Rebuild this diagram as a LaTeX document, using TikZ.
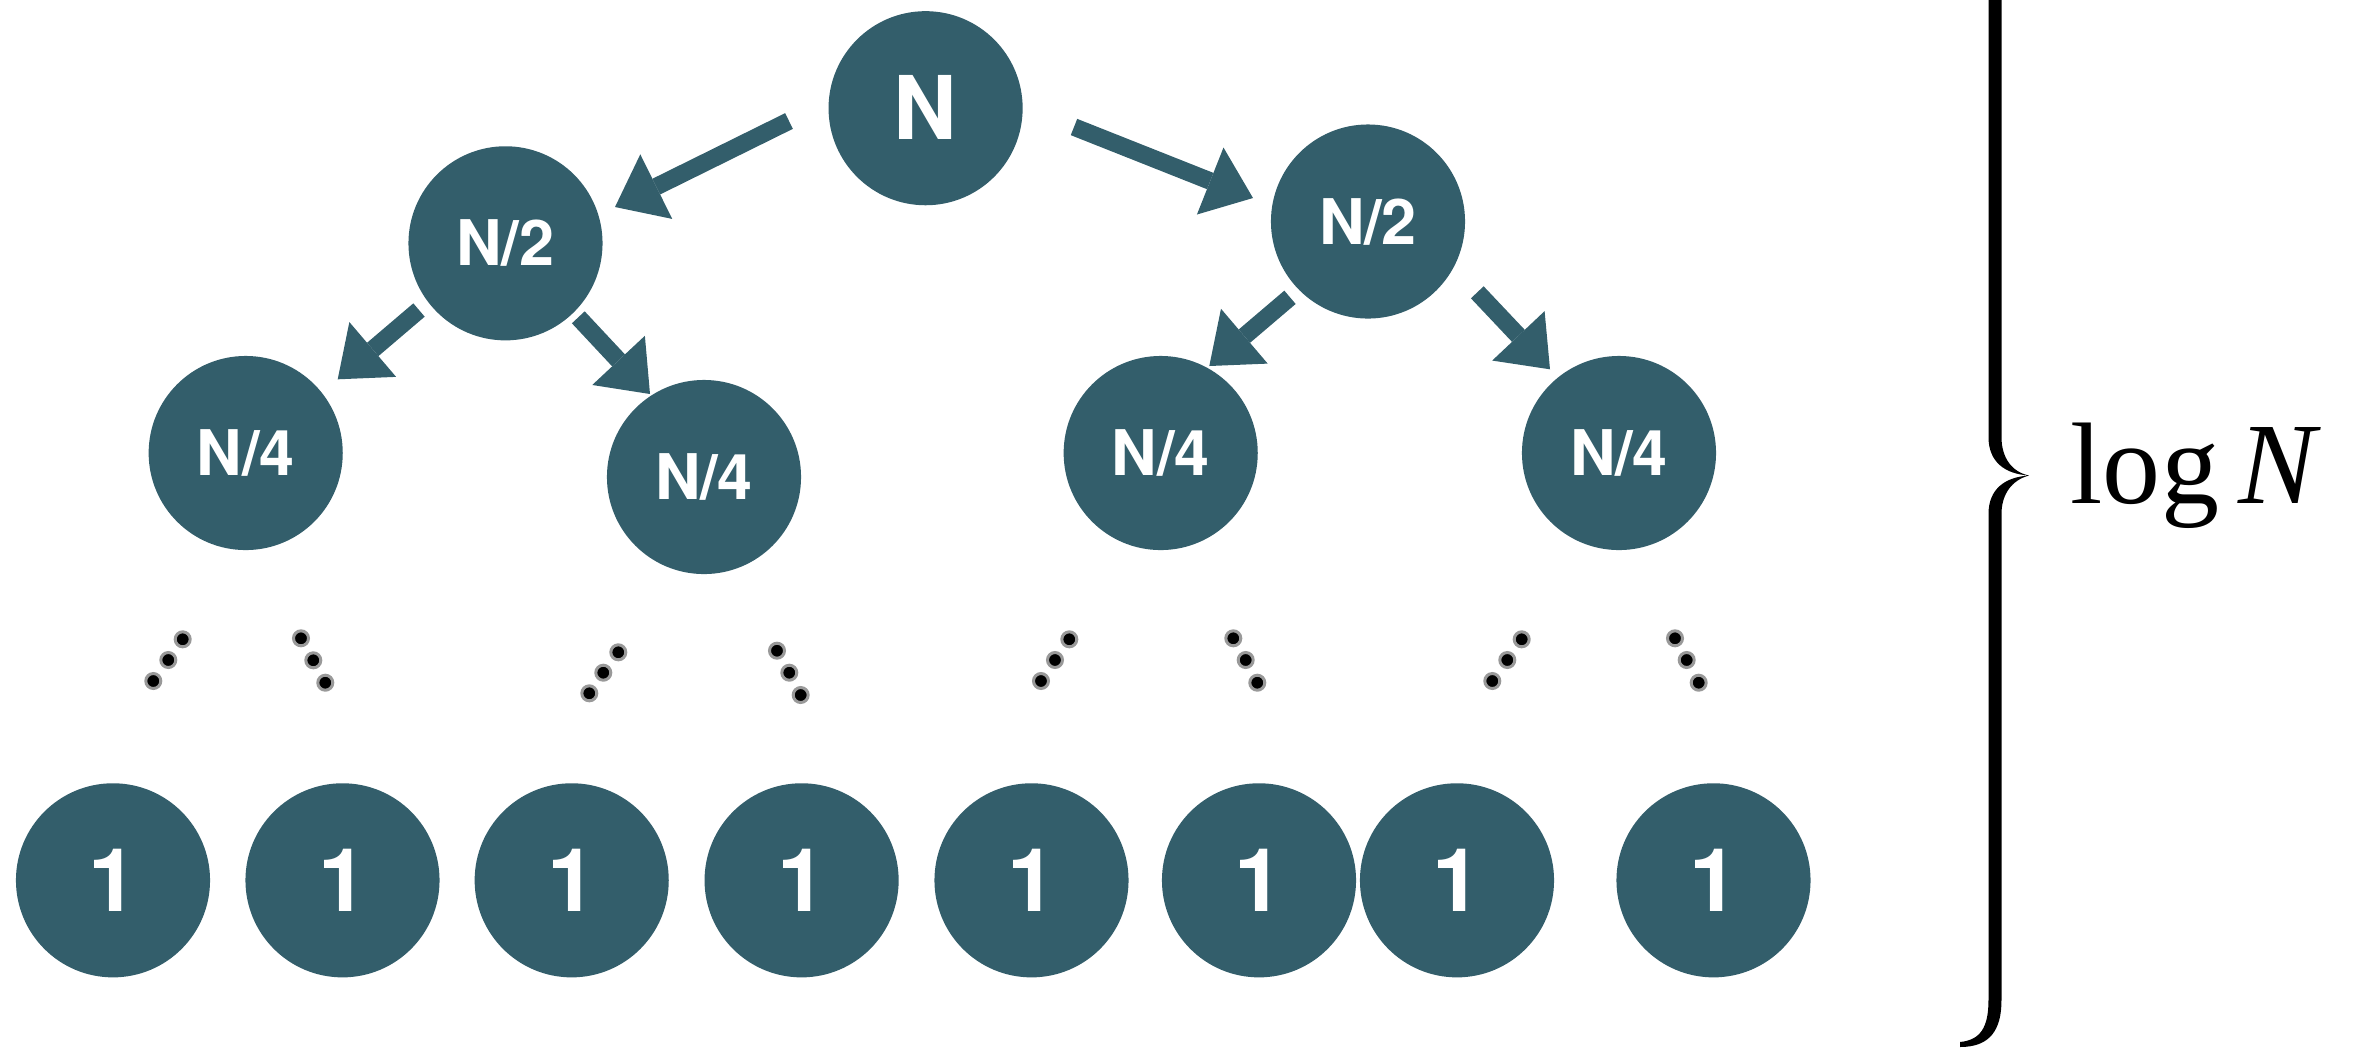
\documentclass[tikz,border=0pt]{standalone}
\usepackage{fontspec}
\setmainfont{Liberation Serif}
\setsansfont{TeX Gyre Heros}
\usetikzlibrary{arrows.meta}
\definecolor{nodeteal}{RGB}{51,94,107}
\begin{document}
\begin{tikzpicture}[x=0.01cm,y=-0.01cm,
  circ/.style={circle,fill=nodeteal,minimum size=1.94cm,inner sep=0pt,text=white},
  bignum/.style={circ,font=\sffamily\bfseries\fontsize{25}{25}\selectfont,text height=17.9pt,text depth=0pt},
  smallnum/.style={circ,font=\sffamily\bfseries\fontsize{17.9}{17.9}\selectfont,text height=12.8pt,text depth=0pt},
  arr/.style={draw=nodeteal,color=nodeteal,line width=0.175cm,
    -{Triangle[length=0.46cm,width=0.72cm,line width=0pt]}},
  dotmark/.style={draw=black!40,fill=black,line width=0.03cm}]
\useasboundingbox (0,0) rectangle (2356,1047);
\clip (0,0) rectangle (2356,1047);

% tree levels
\node[bignum] (N) at (925.6,108.2) {N};
\node[smallnum] (L2) at (505.5,243.3) {N/2};
\node[smallnum] (R2) at (1368,221.5) {N/2};
\node[smallnum] (LL4) at (245.7,453) {N/4};
\node[smallnum] (LR4) at (704,477) {N/4};
\node[smallnum] (RL4) at (1160.7,453) {N/4};
\node[smallnum] (RR4) at (1619,453) {N/4};
\foreach \x [count=\i] in {113,342.5,571.7,801.6,1031.5,1259,1457,1713.5}
  \node[bignum] (leaf\i) at (\x,880.3) {1};

% splitting arrows
\draw[arr] ([shift={(-136.6,12.8)}]N.center) -- ([shift={(109.5,-36.3)}]L2.center);
\draw[arr] ([shift={(148.4,18.8)}]N.center) -- ([shift={(-115,-23.5)}]R2.center);
\draw[arr] ([shift={(-86.5,66.7)}]L2.center) -- ([shift={(92,-73.7)}]LL4.center);
\draw[arr] ([shift={(72.8,74)}]L2.center) -- ([shift={(-54,-83)}]LR4.center);
\draw[arr] ([shift={(-78,75.8)}]R2.center) -- ([shift={(48.6,-87)}]RL4.center);
\draw[arr] ([shift={(109.3,70.8)}]R2.center) -- ([shift={(-69,-83.7)}]RR4.center);

% ellipsis dots between the levels
\foreach \x/\y in {153.3/681,168.3/660,182.7/639.3, 301/638.3,313.3/660.3,325.3/682.7,
  589.3/693.3,603.3/672.7,618.3/652.3, 777/650.7,789.3/672.7,800.7/695,
  1041/681,1055/660,1069.3/639.3, 1233.3/638.3,1245.7/660,1257.3/682.7,
  1492.3/681,1507.3/660,1521.7/639.3, 1675/638.3,1686.7/660,1698.7/682.7}
  \filldraw[dotmark] (\x,\y) circle (7.5);

% right brace spanning the levels
\fill[black] (1988.5,-20) -- (1988.5,437)
  .. controls (1988.5,462) and (2005,474) .. (2029,475.5)
  .. controls (2005,477) and (1988.5,489) .. (1988.5,514)
  -- (1988.5,1000)
  .. controls (1988.5,1028) and (1980,1040) .. (1960,1042)
  -- (1960,1047)
  .. controls (1990,1047) and (2001.5,1030) .. (2001.5,1000)
  -- (2001.5,514)
  .. controls (2001.5,494) and (2012,480) .. (2029,475.5)
  .. controls (2012,472) and (2001.5,458) .. (2001.5,437)
  -- (2001.5,-20) -- cycle;

\node[anchor=base west,inner sep=0pt,font=\fontsize{33}{33}\selectfont] (logn) at (2070,503) {log\,\textit{N}};
\end{tikzpicture}
\end{document}
